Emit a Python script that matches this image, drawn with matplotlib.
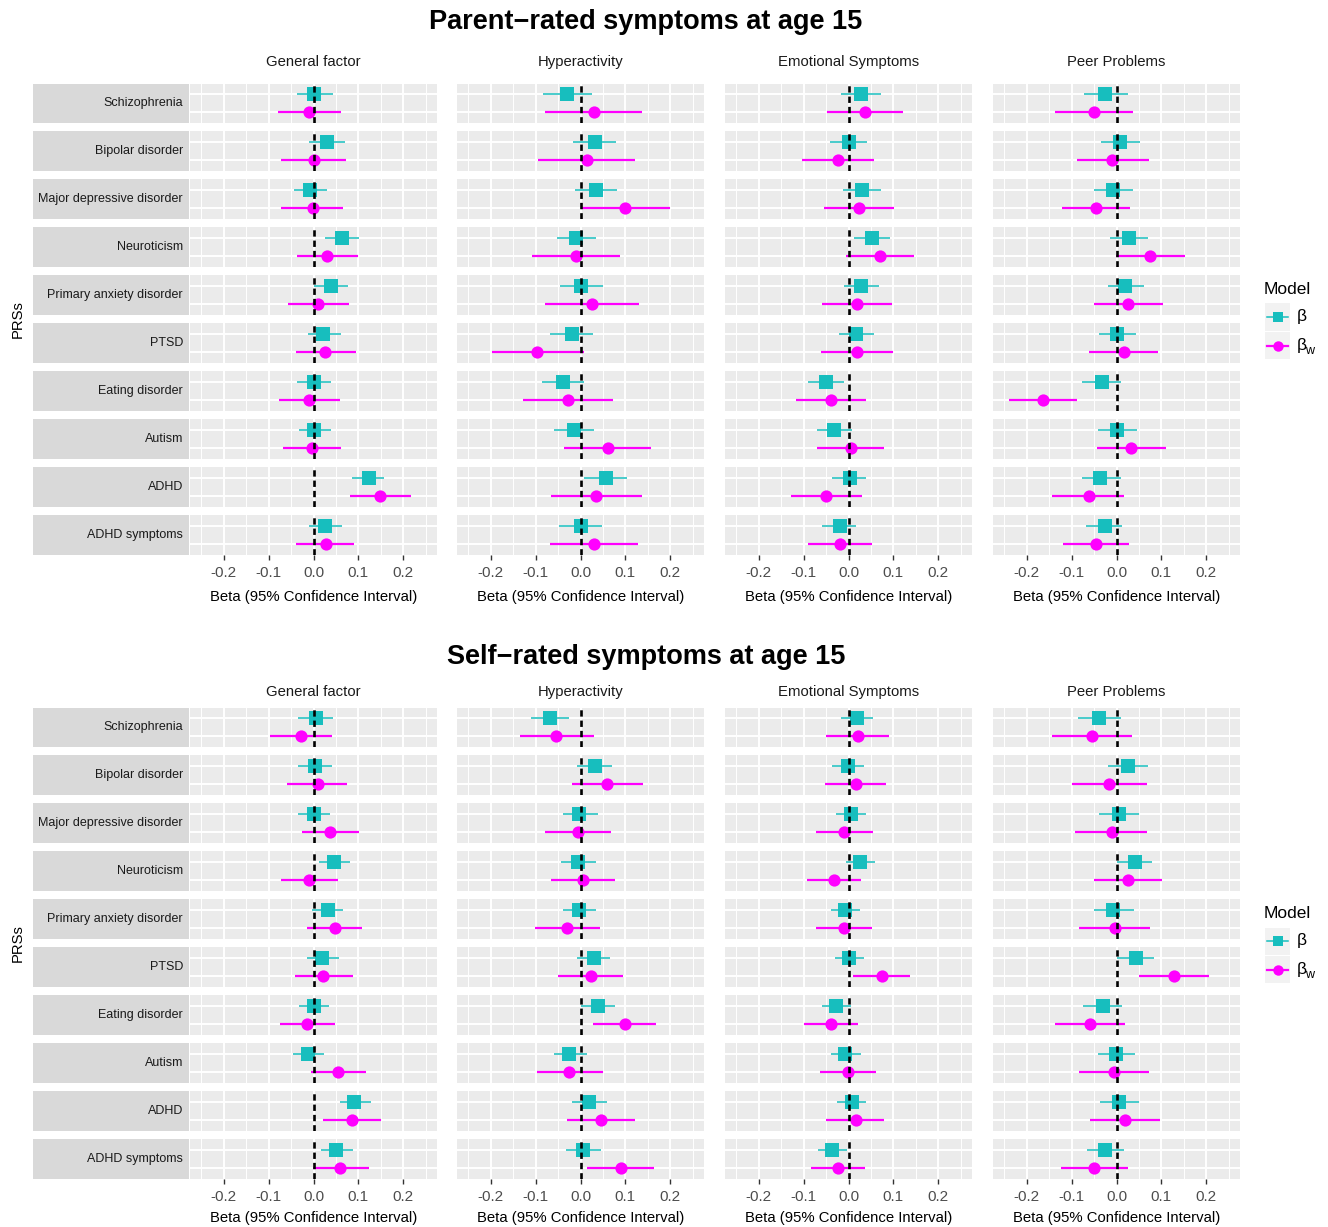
import matplotlib
matplotlib.use("Agg")
import matplotlib.pyplot as plt
import numpy as np

plt.rcParams['font.family'] = ['Liberation Sans', 'DejaVu Sans']

prs = ["Schizophrenia", "Bipolar disorder", "Major depressive disorder", "Neuroticism",
       "Primary anxiety disorder", "PTSD", "Eating disorder", "Autism", "ADHD", "ADHD symptoms"]
outcomes = ["General factor", "Hyperactivity", "Emotional Symptoms", "Peer Problems"]
section_titles = ["Parent\u2212rated symptoms at age 15", "Self\u2212rated symptoms at age 15"]
models = ["\u03b2", "\u03b2w"]

x_ticks = [-0.2, -0.1, 0.0, 0.1, 0.2]
x_tick_labels = ["-0.2", "-0.1", "0.0", "0.1", "0.2"]

# (estimate, lower, upper) per PRS, in the order of `prs`
parent_general_b = [(0.002, -0.037, 0.043), (0.029, -0.009, 0.070), (-0.007, -0.043, 0.031), (0.064, 0.026, 0.101),
                    (0.038, 0.002, 0.076), (0.022, -0.013, 0.061), (0.001, -0.037, 0.040), (0.002, -0.033, 0.040),
                    (0.123, 0.086, 0.158), (0.025, -0.009, 0.064)]
parent_general_bw = [(-0.010, -0.079, 0.062), (0.000, -0.073, 0.073), (-0.002, -0.072, 0.066), (0.031, -0.037, 0.098),
                     (0.011, -0.057, 0.078), (0.026, -0.040, 0.094), (-0.010, -0.077, 0.059), (-0.003, -0.067, 0.061),
                     (0.149, 0.081, 0.216), (0.028, -0.038, 0.091)]
parent_hyper_b = [(-0.030, -0.084, 0.026), (0.032, -0.017, 0.079), (0.035, -0.013, 0.082), (-0.011, -0.052, 0.035),
                  (0.002, -0.046, 0.051), (-0.020, -0.069, 0.027), (-0.039, -0.085, 0.007), (-0.015, -0.060, 0.029),
                  (0.056, 0.008, 0.103), (0.001, -0.047, 0.048)]
parent_hyper_bw = [(0.029, -0.078, 0.137), (0.015, -0.094, 0.122), (0.100, 0.000, 0.200), (-0.010, -0.107, 0.088),
                   (0.026, -0.079, 0.130), (-0.097, -0.198, 0.007), (-0.027, -0.128, 0.073), (0.061, -0.037, 0.158),
                   (0.035, -0.065, 0.137), (0.031, -0.068, 0.129)]
parent_emo_b = [(0.028, -0.017, 0.073), (0.000, -0.041, 0.041), (0.029, -0.013, 0.073), (0.053, 0.013, 0.093),
                (0.027, -0.011, 0.068), (0.017, -0.021, 0.056), (-0.051, -0.090, -0.010), (-0.032, -0.071, 0.007),
                (0.003, -0.036, 0.039), (-0.019, -0.059, 0.017)]
parent_emo_bw = [(0.037, -0.047, 0.121), (-0.024, -0.103, 0.057), (0.023, -0.054, 0.101), (0.070, -0.006, 0.145),
                 (0.018, -0.059, 0.097), (0.018, -0.062, 0.099), (-0.039, -0.117, 0.038), (0.005, -0.071, 0.080),
                 (-0.050, -0.129, 0.030), (-0.019, -0.090, 0.052)]
parent_peer_b = [(-0.025, -0.072, 0.025), (0.008, -0.035, 0.052), (-0.008, -0.050, 0.036), (0.027, -0.014, 0.070),
                 (0.019, -0.020, 0.062), (0.001, -0.039, 0.043), (-0.033, -0.076, 0.010), (0.001, -0.041, 0.045),
                 (-0.036, -0.077, 0.009), (-0.026, -0.067, 0.013)]
parent_peer_bw = [(-0.051, -0.137, 0.036), (-0.010, -0.089, 0.072), (-0.045, -0.121, 0.030), (0.074, -0.002, 0.152),
                  (0.025, -0.051, 0.103), (0.016, -0.062, 0.093), (-0.163, -0.239, -0.087), (0.033, -0.044, 0.110),
                  (-0.062, -0.143, 0.016), (-0.046, -0.120, 0.028)]

self_general_b = [(0.005, -0.034, 0.044), (0.003, -0.035, 0.041), (0.001, -0.034, 0.037), (0.046, 0.012, 0.081),
                  (0.032, -0.003, 0.066), (0.020, -0.014, 0.057), (0.001, -0.033, 0.035), (-0.013, -0.046, 0.023),
                  (0.091, 0.058, 0.127), (0.051, 0.017, 0.087)]
self_general_bw = [(-0.028, -0.096, 0.041), (0.010, -0.058, 0.075), (0.037, -0.026, 0.102), (-0.010, -0.072, 0.054),
                   (0.048, -0.014, 0.108), (0.021, -0.041, 0.087), (-0.014, -0.075, 0.048), (0.055, -0.005, 0.116),
                   (0.085, 0.022, 0.151), (0.060, -0.002, 0.124)]
self_hyper_b = [(-0.069, -0.110, -0.026), (0.032, -0.008, 0.071), (-0.003, -0.039, 0.038), (-0.006, -0.043, 0.034),
                (-0.003, -0.039, 0.034), (0.029, -0.008, 0.065), (0.039, 0.002, 0.077), (-0.025, -0.060, 0.014),
                (0.019, -0.018, 0.058), (0.006, -0.032, 0.045)]
self_hyper_bw = [(-0.054, -0.135, 0.029), (0.060, -0.019, 0.139), (-0.006, -0.079, 0.067), (0.005, -0.066, 0.077),
                 (-0.029, -0.101, 0.044), (0.023, -0.049, 0.095), (0.098, 0.027, 0.169), (-0.025, -0.096, 0.049),
                 (0.046, -0.029, 0.121), (0.090, 0.015, 0.164)]
self_emo_b = [(0.020, -0.016, 0.055), (-0.002, -0.037, 0.034), (0.006, -0.028, 0.040), (0.026, -0.005, 0.058),
              (-0.008, -0.038, 0.026), (0.002, -0.030, 0.034), (-0.028, -0.059, 0.005), (-0.007, -0.038, 0.028),
              (0.008, -0.025, 0.040), (-0.037, -0.069, -0.004)]
self_emo_bw = [(0.022, -0.049, 0.091), (0.016, -0.052, 0.084), (-0.011, -0.073, 0.054), (-0.033, -0.093, 0.028),
               (-0.011, -0.073, 0.052), (0.075, 0.011, 0.137), (-0.038, -0.099, 0.021), (-0.001, -0.064, 0.062),
               (0.016, -0.051, 0.080), (-0.023, -0.083, 0.037)]
self_peer_b = [(-0.039, -0.086, 0.010), (0.025, -0.020, 0.071), (0.005, -0.039, 0.049), (0.041, 0.001, 0.078),
               (-0.007, -0.049, 0.038), (0.043, 0.002, 0.084), (-0.031, -0.075, 0.013), (-0.001, -0.041, 0.041),
               (0.006, -0.036, 0.050), (-0.026, -0.066, 0.016)]
self_peer_bw = [(-0.054, -0.143, 0.034), (-0.016, -0.099, 0.069), (-0.011, -0.092, 0.069), (0.026, -0.049, 0.101),
                (-0.004, -0.084, 0.075), (0.127, 0.049, 0.205), (-0.059, -0.137, 0.020), (-0.005, -0.084, 0.072),
                (0.019, -0.059, 0.097), (-0.049, -0.123, 0.025)]

sections = [
    [(parent_general_b, parent_general_bw), (parent_hyper_b, parent_hyper_bw),
     (parent_emo_b, parent_emo_bw), (parent_peer_b, parent_peer_bw)],
    [(self_general_b, self_general_bw), (self_hyper_b, self_hyper_bw),
     (self_emo_b, self_emo_bw), (self_peer_b, self_peer_bw)],
]

C_B = "#17BEBE"
C_W = "#FF00FF"
PANEL = "#EBEBEB"
STRIP = "#D9D9D9"

W, H = 1328, 1227
fig = plt.figure(figsize=(W / 100, H / 100), dpi=100)


def box(x, y, w, h):
    # pixel box (top-left origin) -> figure fraction
    return [x / W, 1 - (y + h) / H, w / W, h / H]


col_left = [190, 457, 725, 993]
col_w = 247
row_top0 = 83.5
row_h = 39.5
row_pitch = 47.95
# vertical placement of each block: rows offset, title y, column header y, x-label y
sec_offset = [0, 624]
title_y = [22, 657]
header_y = [62, 692]
xlabel_y = [597, 1218]

for s, sec in enumerate(sections):
    off = sec_offset[s]
    fig.text(646 / W, 1 - title_y[s] / H, section_titles[s], ha="center", va="center",
             fontsize=19.5, fontweight="bold")
    for c, (b_list, bw_list) in enumerate(sec):
        b = np.array(b_list)
        bw = np.array(bw_list)
        cx = col_left[c] + col_w / 2
        fig.text(cx / W, 1 - header_y[s] / H, outcomes[c], ha="center", va="center",
                 fontsize=10.7, color="#1A1A1A")
        for r in range(len(prs)):
            top = row_top0 + off + r * row_pitch
            ax = fig.add_axes(box(col_left[c], top, col_w, row_h))
            ax.set_facecolor(PANEL)
            ax.set_xlim(-0.275, 0.275)
            ax.set_ylim(0.4, 2.6)
            for sp in ax.spines.values():
                sp.set_visible(False)
            ax.set_xticks(x_ticks)
            ax.set_xticks(np.arange(-0.25, 0.26, 0.1), minor=True)
            ax.set_yticks([1, 2])
            ax.grid(which="major", color="white", lw=1.4)
            ax.grid(which="minor", axis="x", color="white", lw=0.7)
            ax.set_axisbelow(True)
            ax.tick_params(axis="y", which="both", left=False, labelleft=False)
            ax.tick_params(axis="x", which="minor", bottom=False)
            if r == len(prs) - 1:
                ax.set_xticklabels(x_tick_labels)
                ax.tick_params(axis="x", which="major", length=3.5, width=1.0, color="#333333",
                               labelsize=11, labelcolor="#4D4D4D", pad=5)
            else:
                ax.tick_params(axis="x", which="major", bottom=False, labelbottom=False)

            est, lo, hi = b[r]
            ax.errorbar([est], [2], xerr=[[est - lo], [hi - est]], fmt="s", color=C_B,
                        ms=9.4, mew=0, lw=1.1, capsize=0, zorder=3)
            est, lo, hi = bw[r]
            ax.errorbar([est], [1], xerr=[[est - lo], [hi - est]], fmt="o", color=C_W,
                        ms=8.8, mew=0, lw=1.6, capsize=0, zorder=3)
            ax.axvline(0, color="black", lw=1.9, ls=(0, (2.4, 1.5)), zorder=4)

            if c == 0:
                sax = fig.add_axes(box(33, top, 156, row_h))
                sax.set_facecolor(STRIP)
                sax.set_xticks([])
                sax.set_yticks([])
                for sp in sax.spines.values():
                    sp.set_visible(False)
                sax.text(150 / 156, 0.5, prs[r], ha="right", va="center",
                         fontsize=9.0, color="#1A1A1A", transform=sax.transAxes)

        fig.text(cx / W, 1 - xlabel_y[s] / H, "Beta (95% Confidence Interval)",
                 ha="center", va="center", fontsize=10.7)

    fig.text(18 / W, 1 - (319 + off) / H, "PRSs", rotation=90, ha="center", va="center",
             fontsize=10.7)

    # legend
    fig.text(1264 / W, 1 - (289 + off) / H, "Model", ha="left", va="center", fontsize=12.5)
    for k, (lab, col, mk, ms, lw) in enumerate([(models[0], C_B, "s", 7.5, 1.1),
                                                (models[1], C_W, "o", 7.5, 1.6)]):
        ky = 317 + off + k * 28.5
        kax = fig.add_axes(box(1265, ky - 13.5, 25, 27))
        kax.set_facecolor("#F2F2F2")
        kax.set_xlim(0, 1)
        kax.set_ylim(0, 1)
        kax.set_xticks([])
        kax.set_yticks([])
        for sp in kax.spines.values():
            sp.set_visible(False)
        kax.plot([0.08, 0.92], [0.5, 0.5], color=col, lw=lw)
        kax.plot([0.5], [0.5], marker=mk, color=col, ms=ms, mew=0)
        fig.text(1297 / W, 1 - ky / H, "\u03b2", ha="left", va="center", fontsize=12.5)
        if lab.endswith("w"):
            fig.text(1305 / W, 1 - (ky + 5) / H, "w", ha="left", va="center", fontsize=9)

fig.savefig("out.png", dpi=100)
